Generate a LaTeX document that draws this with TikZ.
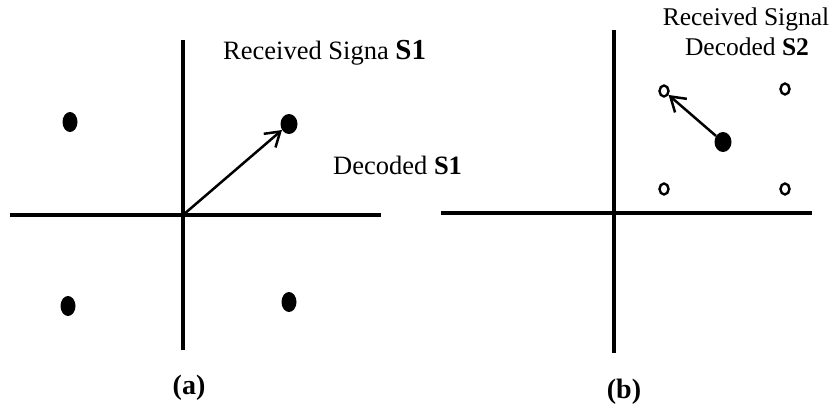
\documentclass[tikz,border=0pt]{standalone}
\usepackage{fontspec}
\setmainfont{Liberation Serif}
\usepackage{tikz}
\usetikzlibrary{shapes.geometric, arrows.meta, positioning}

\begin{document}
\begin{tikzpicture}[
    x=1pt, y=-1pt,
    axis/.style={line width=4pt, black},
    dot/.style={ellipse, fill=black, inner sep=0pt, minimum width=15pt, minimum height=20pt},
    odot/.style={ellipse, draw=black, line width=2.4pt, inner sep=0pt, minimum width=9pt, minimum height=11pt},
    lbl/.style={font=\fontsize{26.5}{30}\selectfont, inner sep=0pt},
    rlbl/.style={font=\fontsize{25.5}{30}\selectfont, inner sep=0pt},
    captionlbl/.style={font=\fontsize{28}{30}\selectfont\bfseries, inner sep=0pt},
    arrow/.style={-{Straight Barb[length=14pt, width=18pt]}, line width=2.5pt, black}
]
\useasboundingbox (0,0) rectangle (835,410);

% Left plot (a)
\coordinate (oa) at (183,215);
\draw[axis] (183,40) -- (183,350);
\draw[axis] (10,215) -- (381,215);
\node[dot] (a1) at (70,122) {};
\node[dot, minimum width=17pt] (a2) at (289,124) {};
\node[dot] (a3) at (68,306) {};
\node[dot] (a4) at (289,302) {};
\node[lbl, anchor=base west] (rxa) at (223,59) {Received Signa {\fontsize{29}{30}\selectfont\textbf{S1}}};
\node[lbl, anchor=base west] (deca) at (333,174) {Decoded \textbf{S1}};
\node[captionlbl, anchor=base] (capa) at (189,394) {(a)};

% Right plot (b)
\draw[axis] (614,30) -- (614,353);
\draw[axis] (441,213) -- (812,213);
\node[odot] (b1) at (664,91) {};
\node[odot] (b2) at (785,89) {};
\node[odot] (b3) at (664,189) {};
\node[odot] (b4) at (785,189) {};
\node[dot, minimum width=17pt] (rx) at (723,142) {};
\node[rlbl, anchor=base] (rxb) at (746,25) {Received Signal};
\node[rlbl, anchor=base] (decb) at (747,55) {Decoded \textbf{S2}};
\node[captionlbl, anchor=base] (capb) at (624,398) {(b)};

% Connectors
\draw[arrow] (oa) -- (a2);
\draw[arrow] (rx) -- (b1);

\end{tikzpicture}
\end{document}
